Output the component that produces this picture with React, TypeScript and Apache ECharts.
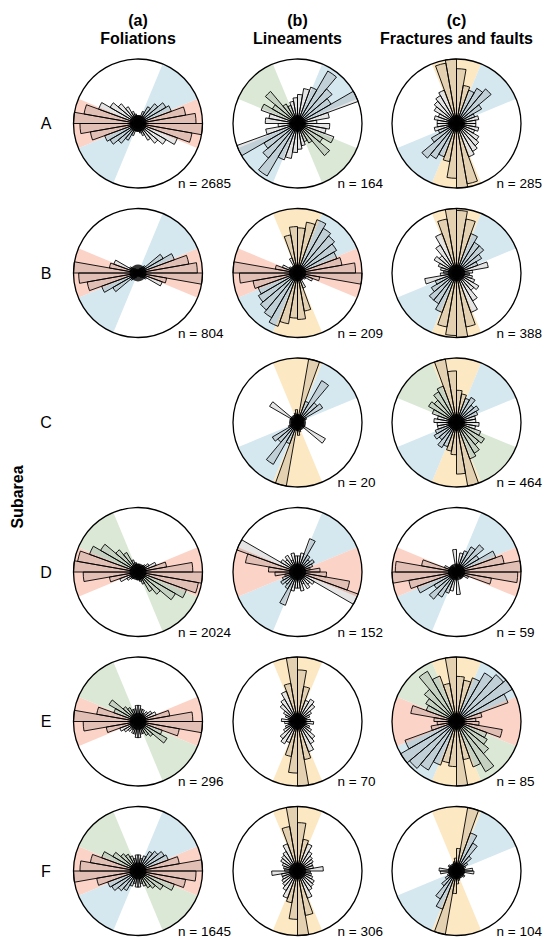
import React, { useEffect, useRef } from "react";
import * as echarts from "echarts";

// ---------- text ----------
const columnLetters = ["(a)", "(b)", "(c)"];
const columnTitles = ["Foliations", "Lineaments", "Fractures and faults"];
const subareas = ["A", "B", "C", "D", "E", "F"];
const axisTitle = "Subarea";

// 10° bins, compass azimuth, clockwise from north
const binLabels = Array.from({ length: 36 }, (_, i) => `${i * 10}-${i * 10 + 10}`);

// ---------- sample counts ----------
const nFoliations = ["2685", "804", "", "2024", "296", "1645"];
const nLineaments = ["164", "209", "20", "152", "70", "306"];
const nFractures = ["285", "388", "464", "59", "85", "104"];

// ---------- petal lengths (relative, bins 0-10 ... 170-180, mirrored for 180-360) ----------
const folA = [0.12, 0.12, 0.2, 0.3, 0.4, 0.5, 0.55, 0.75, 0.9, 1.0, 0.85, 0.65, 0.5, 0.4, 0.3, 0.2, 0.15, 0.12];
const folB = [0.05, 0.05, 0.08, 0.1, 0.15, 0.45, 0.6, 0.8, 0.92, 1.0, 0.45, 0.4, 0.15, 0.1, 0.08, 0.06, 0.05, 0.05];
const folD = [0.12, 0.1, 0.1, 0.12, 0.15, 0.2, 0.3, 0.45, 0.85, 1.0, 0.95, 0.8, 0.67, 0.45, 0.35, 0.2, 0.15, 0.12];
const folE = [0.25, 0.2, 0.2, 0.15, 0.2, 0.25, 0.3, 0.5, 0.85, 1.0, 0.65, 0.4, 0.52, 0.3, 0.25, 0.2, 0.2, 0.25];
const folF = [0.25, 0.2, 0.25, 0.35, 0.4, 0.47, 0.5, 0.65, 1.0, 0.9, 0.75, 0.6, 0.45, 0.35, 0.3, 0.25, 0.2, 0.25];

const linA = [0.45, 0.55, 0.6, 0.94, 0.7, 0.6, 1.0, 0.5, 0.3, 0.5, 0.45, 0.6, 0.45, 0.65, 0.35, 0.3, 0.35, 0.4];
const linB = [0.7, 0.8, 0.88, 0.8, 0.75, 0.7, 0.65, 0.7, 0.9, 1.0, 0.35, 0.25, 0.15, 0.1, 0.12, 0.25, 0.6, 0.72];
const linC = [0.12, 1.0, 0.35, 0.75, 0.4, 0.45, 0.15, 0.1, 0.08, 0.1, 0.08, 0.12, 0.5, 0.1, 0.08, 0.12, 0.15, 0.2];
const linD = [0.25, 0.3, 0.55, 0.3, 0.25, 0.3, 0.25, 0.2, 0.35, 0.45, 0.82, 1.0, 0.3, 0.25, 0.3, 0.2, 0.3, 0.25];
const linE = [0.8, 0.55, 0.35, 0.4, 0.35, 0.25, 0.2, 0.15, 0.2, 0.25, 0.15, 0.2, 0.25, 0.35, 0.4, 0.5, 0.6, 1.0];
const linF = [0.75, 0.5, 0.45, 0.35, 0.3, 0.28, 0.25, 0.25, 0.4, 0.2, 0.22, 0.25, 0.3, 0.32, 0.35, 0.45, 0.7, 1.0];

const fraA = [0.85, 0.6, 0.55, 0.63, 0.7, 0.45, 0.3, 0.35, 0.3, 0.3, 0.35, 0.3, 0.4, 0.45, 0.5, 0.55, 0.95, 1.0];
const fraB = [0.97, 0.85, 0.65, 0.55, 0.55, 0.45, 0.35, 0.5, 0.25, 0.2, 0.25, 0.3, 0.4, 0.35, 0.5, 0.65, 0.85, 1.0];
const fraC = [0.5, 0.45, 0.4, 0.45, 0.35, 0.4, 0.35, 0.3, 0.3, 0.35, 0.3, 0.4, 0.5, 0.45, 0.55, 0.6, 1.0, 0.8];
const fraD = [0.1, 0.3, 0.35, 0.45, 0.55, 0.4, 0.65, 0.75, 1.0, 0.95, 0.55, 0.2, 0.12, 0.1, 0.12, 0.08, 0.06, 0.35];
const fraE = [0.7, 0.65, 0.72, 0.87, 0.95, 1.0, 0.85, 0.4, 0.3, 0.35, 0.72, 0.5, 0.55, 0.65, 0.9, 0.75, 0.6, 1.0];
const fraF = [0.35, 1.0, 0.63, 0.5, 0.3, 0.2, 0.15, 0.12, 0.25, 0.27, 0.12, 0.1, 0.15, 0.1, 0.1, 0.12, 0.15, 0.2];

// ---------- shaded sectors: [startAzimuth, endAzimuth, colourIndex], mirrored by +180 ----------
// colour index: 0 red (E-W), 1 blue (NE-SW), 2 green (NW-SE), 3 yellow (N-S)
const sectorsFolA = [[67.5, 112.5, 0], [22.5, 67.5, 1]];
const sectorsFolB = [[67.5, 112.5, 0], [22.5, 67.5, 1]];
const sectorsFolD = [[67.5, 112.5, 0], [112.5, 157.5, 2]];
const sectorsFolE = [[67.5, 112.5, 0], [112.5, 157.5, 2]];
const sectorsFolF = [[67.5, 112.5, 0], [22.5, 67.5, 1], [112.5, 157.5, 2]];
const sectorsLinA = [[22.5, 67.5, 1], [112.5, 157.5, 2]];
const sectorsLinB = [[-22.5, 22.5, 3], [22.5, 67.5, 1], [67.5, 112.5, 0]];
const sectorsLinC = [[-22.5, 22.5, 3], [22.5, 67.5, 1]];
const sectorsLinD = [[22.5, 67.5, 1], [67.5, 112.5, 0]];
const sectorsLinE = [[-22.5, 22.5, 3]];
const sectorsLinF = [[-22.5, 22.5, 3]];
const sectorsFraA = [[-22.5, 22.5, 3], [22.5, 67.5, 1]];
const sectorsFraB = [[-22.5, 22.5, 3], [22.5, 67.5, 1]];
const sectorsFraC = [[-22.5, 22.5, 3], [22.5, 67.5, 1], [112.5, 157.5, 2]];
const sectorsFraD = [[22.5, 67.5, 1], [67.5, 112.5, 0]];
const sectorsFraE = [[-22.5, 22.5, 3], [22.5, 67.5, 1], [67.5, 112.5, 0], [112.5, 157.5, 2]];
const sectorsFraF = [[-22.5, 22.5, 3], [22.5, 67.5, 1]];

const sectorColors = ["#fcd3c7", "#d5e7ef", "#dae8d5", "#fde8c4"];

// ---------- layout ----------
const COL_X = [138, 297.5, 456.5];
const ROW_Y = [123.5, 273, 422.5, 572, 721.5, 871];
const RADIUS = 64.5;
const FONT = "'Liberation Sans', Arial, Helvetica, sans-serif";

type Diagram = { col: number; row: number; petals: number[]; sectors: number[][]; n: string };

const diagrams: Diagram[] = [
  { col: 0, row: 0, petals: folA, sectors: sectorsFolA, n: nFoliations[0] },
  { col: 0, row: 1, petals: folB, sectors: sectorsFolB, n: nFoliations[1] },
  { col: 0, row: 3, petals: folD, sectors: sectorsFolD, n: nFoliations[3] },
  { col: 0, row: 4, petals: folE, sectors: sectorsFolE, n: nFoliations[4] },
  { col: 0, row: 5, petals: folF, sectors: sectorsFolF, n: nFoliations[5] },
  { col: 1, row: 0, petals: linA, sectors: sectorsLinA, n: nLineaments[0] },
  { col: 1, row: 1, petals: linB, sectors: sectorsLinB, n: nLineaments[1] },
  { col: 1, row: 2, petals: linC, sectors: sectorsLinC, n: nLineaments[2] },
  { col: 1, row: 3, petals: linD, sectors: sectorsLinD, n: nLineaments[3] },
  { col: 1, row: 4, petals: linE, sectors: sectorsLinE, n: nLineaments[4] },
  { col: 1, row: 5, petals: linF, sectors: sectorsLinF, n: nLineaments[5] },
  { col: 2, row: 0, petals: fraA, sectors: sectorsFraA, n: nFractures[0] },
  { col: 2, row: 1, petals: fraB, sectors: sectorsFraB, n: nFractures[1] },
  { col: 2, row: 2, petals: fraC, sectors: sectorsFraC, n: nFractures[2] },
  { col: 2, row: 3, petals: fraD, sectors: sectorsFraD, n: nFractures[3] },
  { col: 2, row: 4, petals: fraE, sectors: sectorsFraE, n: nFractures[4] },
  { col: 2, row: 5, petals: fraF, sectors: sectorsFraF, n: nFractures[5] },
];

function buildOption(): any {
  const polar = diagrams.map((d) => ({ center: [COL_X[d.col], ROW_Y[d.row]], radius: RADIUS }));
  const angleAxis = diagrams.map((_, i) => ({
    polarIndex: i,
    type: "category",
    data: binLabels,
    startAngle: 90,
    clockwise: true,
    boundaryGap: true,
    z: 10,
    axisLine: { show: true, lineStyle: { color: "#000", width: 1.3 } },
    axisTick: { show: false },
    axisLabel: { show: false },
    splitLine: { show: false },
    splitArea: { show: false },
  }));
  const radiusAxis = diagrams.map((_, i) => ({
    polarIndex: i,
    type: "value",
    min: 0,
    max: 1,
    axisLine: { show: false },
    axisTick: { show: false },
    axisLabel: { show: false },
    splitLine: { show: false },
    splitArea: { show: false },
  }));

  const series: any[] = [];
  diagrams.forEach((d, i) => {
    const sectorData: number[][] = [];
    d.sectors.forEach(([s, e, c]) => {
      sectorData.push([0, 0, s, e, c]);
      sectorData.push([0, 0, s + 180, e + 180, c]);
    });
    series.push({
      type: "custom",
      coordinateSystem: "polar",
      polarIndex: i,
      z: 1,
      silent: true,
      encode: { radius: 0, angle: 1 },
      data: sectorData,
      renderItem: (params: any, api: any) => {
        const cs = params.coordSys;
        const s = api.value(2);
        const e = api.value(3);
        const c = api.value(4);
        return {
          type: "sector",
          shape: {
            cx: cs.cx,
            cy: cs.cy,
            r0: 0,
            r: cs.r,
            startAngle: ((s - 90) * Math.PI) / 180,
            endAngle: ((e - 90) * Math.PI) / 180,
            clockwise: true,
          },
          style: { fill: sectorColors[c], stroke: null },
        };
      },
    });
    series.push({
      type: "bar",
      coordinateSystem: "polar",
      polarIndex: i,
      z: 3,
      silent: true,
      barCategoryGap: "0%",
      data: [...d.petals, ...d.petals],
      itemStyle: { color: "rgba(70,70,70,0.14)", borderColor: "#000", borderWidth: 0.9 },
    });
    series.push({
      type: "scatter",
      coordinateSystem: "polar",
      polarIndex: i,
      z: 5,
      silent: true,
      symbol: "circle",
      symbolSize: 17,
      data: [[0, 0]],
      itemStyle: { color: "#000" },
    });
  });

  const graphic: any[] = [];
  columnLetters.forEach((t, c) => {
    graphic.push({
      type: "text",
      x: COL_X[c],
      y: 20,
      style: { text: t, font: `bold 16px ${FONT}`, textAlign: "center", textVerticalAlign: "middle", fill: "#000" },
    });
    graphic.push({
      type: "text",
      x: COL_X[c],
      y: 38,
      style: { text: columnTitles[c], font: `bold 16px ${FONT}`, textAlign: "center", textVerticalAlign: "middle", fill: "#000" },
    });
  });
  subareas.forEach((t, r) => {
    graphic.push({
      type: "text",
      x: 46,
      y: ROW_Y[r],
      style: { text: t, font: `16px ${FONT}`, textAlign: "center", textVerticalAlign: "middle", fill: "#000" },
    });
  });
  graphic.push({
    type: "text",
    x: 17,
    y: 497,
    rotation: Math.PI / 2,
    style: { text: axisTitle, font: `bold 16px ${FONT}`, textAlign: "center", textVerticalAlign: "middle", fill: "#000" },
  });
  diagrams.forEach((d) => {
    graphic.push({
      type: "text",
      x: COL_X[d.col] + 40,
      y: ROW_Y[d.row] + 60,
      style: { text: `n = ${d.n}`, font: `13.5px ${FONT}`, textAlign: "left", textVerticalAlign: "middle", fill: "#000" },
    });
  });

  return {
    animation: false,
    backgroundColor: "#fff",
    polar,
    angleAxis,
    radiusAxis,
    series,
    graphic,
  };
}

export default function App() {
  const ref = useRef<HTMLDivElement>(null);
  useEffect(() => {
    if (!ref.current) return;
    const chart = echarts.init(ref.current, null, { renderer: "svg" });
    chart.setOption(buildOption());
    return () => chart.dispose();
  }, []);
  return (
    <div
      ref={ref}
      style={{ position: "absolute", left: 0, top: 0, width: 545, height: 937, background: "#fff" }}
    />
  );
}
